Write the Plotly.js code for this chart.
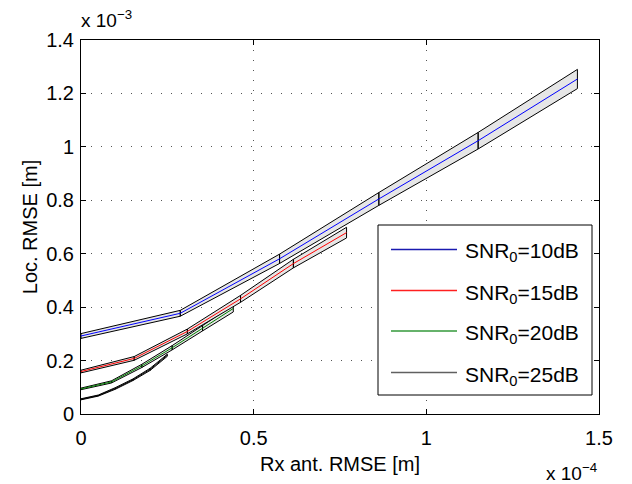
<!DOCTYPE html>
<html>
<head>
<meta charset="utf-8">
<script src="https://cdn.plot.ly/plotly-3.0.1.min.js"></script>
<style>html,body{margin:0;padding:0;background:#fff;}#chart{width:632px;height:484px;}</style>
</head>
<body>
<div id="chart"></div>
<script>
// x in units of 1e-4 m, y in units of 1e-3 m
var seriesNames = ["SNR<sub>0</sub>=10dB", "SNR<sub>0</sub>=15dB", "SNR<sub>0</sub>=20dB", "SNR<sub>0</sub>=25dB"];
var seriesColors = ["#0000ff", "#ff0000", "#008000", "#000000"];

var x10dB = [0, 0.2875, 0.575, 0.8625, 1.15, 1.4375];
var y10dB = [0.292, 0.377, 0.581, 0.805, 1.023, 1.254];
var e10dB = [0.009, 0.011, 0.0175, 0.024, 0.031, 0.036];

var x15dB = [0, 0.154, 0.308, 0.462, 0.615, 0.769];
var y15dB = [0.159, 0.208, 0.309, 0.431, 0.563, 0.679];
var e15dB = [0.005, 0.007, 0.009, 0.013, 0.016, 0.02];

var x20dB = [0, 0.088, 0.176, 0.264, 0.352, 0.441];
var y20dB = [0.094, 0.120, 0.180, 0.248, 0.321, 0.395];
var e20dB = [0.003, 0.004, 0.006, 0.008, 0.010, 0.013];

var x25dB = [0, 0.05, 0.1, 0.15, 0.2, 0.25];
var y25dB = [0.055, 0.069, 0.096, 0.128, 0.167, 0.220];
var e25dB = [0.002, 0.002, 0.003, 0.003, 0.004, 0.004];

var xTickVals = [0, 0.5, 1, 1.5];
var xTickText = ["0", "0.5", "1", "1.5"];
var yTickVals = [0, 0.2, 0.4, 0.6, 0.8, 1.0, 1.2, 1.4];
var yTickText = ["0", "0.2", "0.4", "0.6", "0.8", "1", "1.2", "1.4"];

var allX = [x10dB, x15dB, x20dB, x25dB];
var allY = [y10dB, y15dB, y20dB, y25dB];
var allE = [e10dB, e15dB, e20dB, e25dB];

var FONT = "Liberation Sans, Arial, Helvetica, sans-serif";
var traces = [];
// draw from last series to first so that 10dB is on top
for (var s = 3; s >= 0; s--) {
  var xs = allX[s], ys = allY[s], es = allE[s];
  var bx = [], by = [];
  for (var i = 0; i < xs.length - 1; i++) {
    bx.push(xs[i], xs[i+1], xs[i+1], xs[i], xs[i], null);
    by.push(ys[i]-es[i], ys[i+1]-es[i+1], ys[i+1]+es[i+1], ys[i]+es[i], ys[i]-es[i], null);
  }
  traces.push({
    x: bx, y: by, type: "scatter", mode: "lines", fill: "toself",
    fillcolor: "#e6e6e6", line: {color: "#000", width: 1}, connectgaps: false,
    hoverinfo: "skip", showlegend: false
  });
  traces.push({
    x: xs, y: ys, type: "scatter", mode: "lines", name: seriesNames[s],
    line: {color: seriesColors[s], width: 1}, showlegend: false
  });
}

// plot area pixel geometry
var L = 81, R = 599, T = 40, B = 414;
function px(p) { return (p - L) / (R - L); }
function py(p) { return (B - p) / (B - T); }

var shapes = [];
var annotations = [];
// manual legend box
shapes.push({type: "rect", xref: "paper", yref: "paper", x0: px(378), x1: px(592), y0: py(395), y1: py(225),
  fillcolor: "#fff", line: {color: "#000", width: 1}, layer: "above"});
var legendColors = ["#1a1ab0", "#ff2020", "#33993a", "#606060"];
var rowY = [249.5, 290.5, 331, 372.5];
for (var k = 0; k < 4; k++) {
  shapes.push({type: "line", xref: "paper", yref: "paper", x0: px(391), x1: px(457), y0: py(rowY[k]), y1: py(rowY[k]),
    line: {color: legendColors[k], width: 1.5}, layer: "above"});
  annotations.push({xref: "paper", yref: "paper", x: px(463), y: py(rowY[k] + 3), xanchor: "left", yanchor: "middle",
    text: seriesNames[k], showarrow: false, font: {family: FONT, size: 21, color: "#000"}});
}
// exponent labels
annotations.push({xref: "paper", yref: "paper", x: px(79), y: py(33), xanchor: "left", yanchor: "bottom",
  text: "x 10<sup>\u22123</sup>", showarrow: false, font: {family: FONT, size: 19, color: "#000"}});
annotations.push({xref: "paper", yref: "paper", x: px(599), y: py(486), xanchor: "right", yanchor: "bottom",
  text: "x 10<sup>\u22124</sup>", showarrow: false, font: {family: FONT, size: 19, color: "#000"}});

var axisCommon = {
  showline: true, linecolor: "#000", linewidth: 1, mirror: "ticks",
  ticks: "inside", ticklen: 5, tickcolor: "#000", tickwidth: 1,
  showgrid: true, gridcolor: "#555", gridwidth: 1, griddash: "1px,9px",
  zeroline: false, tickfont: {family: FONT, size: 20, color: "#000"}
};

var layout = {
  width: 632, height: 484,
  margin: {l: L, r: 632 - R, t: T, b: 484 - B},
  paper_bgcolor: "#fff", plot_bgcolor: "#fff",
  showlegend: false,
  xaxis: Object.assign({}, axisCommon, {
    range: [0, 1.5], tickmode: "array", tickvals: xTickVals, ticktext: xTickText,
    ticklabelstandoff: 6,
    title: {text: "Rx ant. RMSE [m]", font: {family: FONT, size: 20, color: "#000"}, standoff: 8}
  }),
  yaxis: Object.assign({}, axisCommon, {
    range: [0, 1.4], tickmode: "array", tickvals: yTickVals, ticktext: yTickText,
    ticklabelstandoff: 2,
    title: {text: "Loc. RMSE [m]", font: {family: FONT, size: 20, color: "#000"}, standoff: 3}
  }),
  shapes: shapes,
  annotations: annotations,
  font: {family: FONT, color: "#000"}
};

Plotly.newPlot("chart", traces, layout, {displayModeBar: false, staticPlot: true});
</script>
</body>
</html>
